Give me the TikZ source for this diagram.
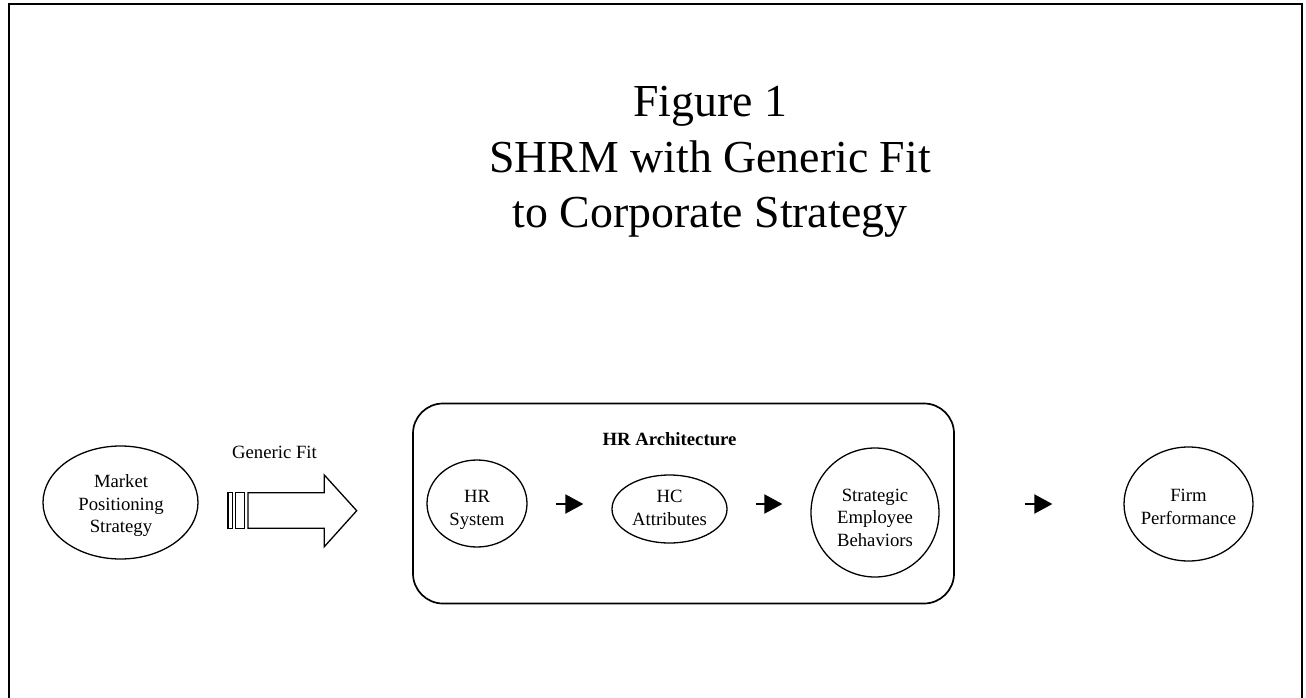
\documentclass[tikz,border=0pt]{standalone}
\usepackage{fontspec}
\setmainfont{Liberation Serif}
\usetikzlibrary{arrows.meta,shapes.geometric}
\tikzset{
  oval/.style={draw, ellipse, line width=1.3pt, inner sep=0pt},
  body/.style={align=center, inner sep=0pt, font=\fontsize{18.7}{22.5}\selectfont},
  arr/.style={line width=2pt, -{Triangle[length=18pt,width=19pt]}},
  frameline/.style={line width=2.4pt},
  blockarrow/.style={draw, line width=1.3pt, fill=white},
}
\begin{document}
\begin{tikzpicture}[x=1pt,y=-1pt]
\useasboundingbox (0,0) rectangle (1306,698);
% outer frame (open at bottom)
\draw[frameline] (9,700) -- (9,4.3) -- (1302,4.3) -- (1302,700);
% title
\node[align=center, inner sep=0pt, font=\fontsize{45.8}{55.5}\selectfont] (title) at (710,161.8)
  {Figure 1\\SHRM with Generic Fit\\to Corporate Strategy};
% market positioning
\node[oval, minimum width=155pt, minimum height=113pt] (mps) at (120.5,502.5) {};
\node[body] (mpsT) at (121,506) {Market\\Positioning\\Strategy};
% generic fit arrow
\node[body] (gf) at (274.5,452.6) {Generic Fit};
\draw[blockarrow] (248,492.7) -- (324.3,492.7) -- (324.3,475) -- (356.7,510.7)
  -- (324.3,546.7) -- (324.3,528.3) -- (248,528.3) -- cycle;
\draw[blockarrow] (228,492.7) rectangle (232.3,528.3);
\draw[blockarrow] (235.7,492.7) rectangle (244.3,528.3);
% HR architecture box
\node[draw, rounded corners=30pt, line width=1.7pt, minimum width=541pt, minimum height=200pt, inner sep=0pt] (arch) at (683.5,503.5) {};
\node[body, font=\fontsize{18.7}{22.5}\selectfont\bfseries] (archT) at (669.5,438.7) {HR Architecture};
% inner nodes
\node[oval, minimum width=100pt, minimum height=87pt] (hrs) at (477,503.5) {};
\node[body] (hrsT) at (477,509.8) {HR\\System};
\node[oval, minimum width=115pt, minimum height=68pt] (hca) at (669.5,509) {};
\node[body] (hcaT) at (669.5,507.8) {HC\\Attributes};
\node[oval, minimum width=128pt, minimum height=129pt] (seb) at (875,512.5) {};
\node[body] (sebT) at (875,517.6) {Strategic\\Employee\\Behaviors};
\node[oval, minimum width=129pt, minimum height=114pt] (firm) at (1188.5,504) {};
\node[body] (firmT) at (1188.5,507) {Firm\\Performance};
% arrows
\coordinate (row) at (0,504);
\draw[arr, shorten <=28pt, shorten >=28pt] (hrs.east |- row) -- (hca.west |- row);
\draw[arr, shorten <=28pt, shorten >=28pt] (hca.east |- row) -- (seb.west |- row);
\draw[arr, shorten <=70pt, shorten >=71pt] (arch.east |- row) -- (firm.west |- row);
\end{tikzpicture}
\end{document}
